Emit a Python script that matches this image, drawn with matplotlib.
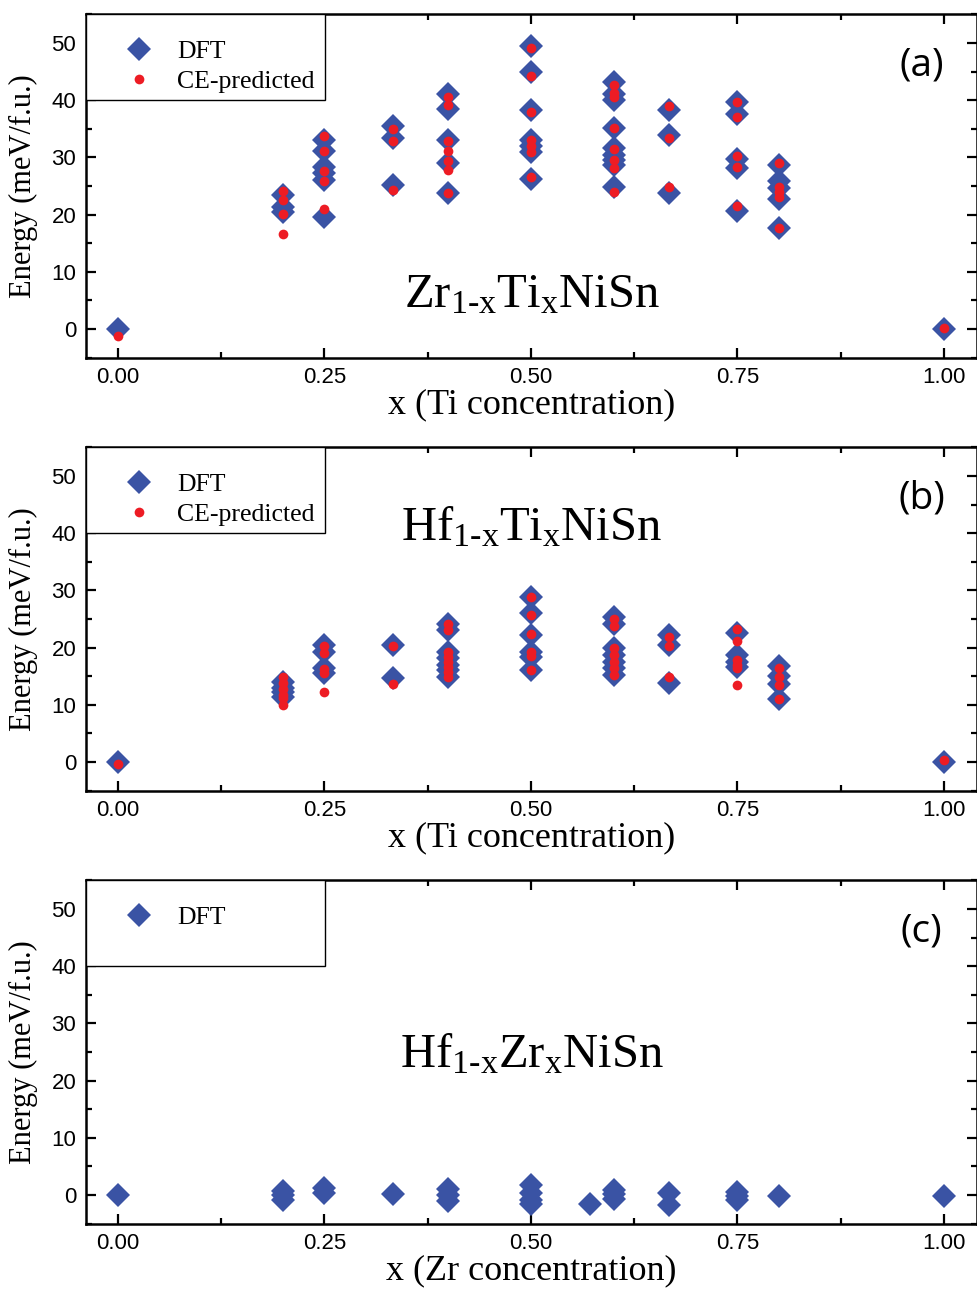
import matplotlib
matplotlib.use("Agg")
import matplotlib.pyplot as plt
from matplotlib.patches import Rectangle
from matplotlib.ticker import MultipleLocator, FormatStrFormatter

plt.rcParams['font.family'] = 'Liberation Sans'
plt.rcParams['mathtext.fontset'] = 'custom'
plt.rcParams['mathtext.rm'] = 'Liberation Serif'
plt.rcParams['mathtext.it'] = 'Liberation Serif'

BLUE = '#3A53A4'
RED = '#ED1C24'

# Ti / Zr concentrations of the calculated structures
conc = [0.0, 0.2, 0.25, 1/3, 0.4, 0.5, 0.6, 2/3, 0.75, 0.8, 1.0]

# (a) Zr(1-x)Ti(x)NiSn, meV/f.u.
zrti_dft = [[0.0], [23.5, 21.3, 20.4], [33.0, 31.1, 28.4, 27.2, 26.0, 19.5],
            [35.4, 33.3, 25.2], [41.1, 38.5, 33.0, 29.0, 23.8],
            [49.5, 44.9, 38.3, 33.0, 32.0, 31.0, 26.3],
            [43.1, 41.1, 40.0, 35.2, 31.6, 30.4, 29.5, 28.7, 24.9],
            [38.3, 33.9, 23.7], [39.7, 37.5, 29.8, 28.1, 20.6],
            [28.7, 25.8, 24.6, 22.8, 17.7], [0.0]]
zrti_ce = [[-1.3], [24.2, 22.6, 20.1, 16.6], [33.8, 31.1, 27.6, 25.9, 20.9],
           [34.9, 32.9, 24.3], [40.6, 39.2, 32.9, 31.1, 29.3, 27.8, 23.7],
           [49.1, 44.2, 38.0, 33.0, 31.9, 31.0, 26.5],
           [42.7, 41.2, 40.6, 35.2, 31.5, 29.5, 28.1, 24.0],
           [38.9, 33.4, 24.8], [39.6, 37.1, 30.2, 28.4, 21.5],
           [29.1, 24.8, 24.0, 23.0, 17.6], [0.1]]

# (b) Hf(1-x)Ti(x)NiSn
hfti_dft = [[0.0], [14.0, 13.0, 12.2, 11.3], [20.5, 19.3, 16.4, 15.5],
            [20.5, 14.6], [24.2, 23.1, 19.3, 18.1, 17.0, 16.1, 14.9],
            [28.9, 26.0, 22.2, 19.3, 18.3, 16.1],
            [25.4, 24.2, 19.9, 18.7, 17.5, 16.4, 15.2],
            [22.2, 20.5, 13.8], [22.5, 18.7, 17.5, 16.6],
            [16.8, 15.0, 13.6, 11.0], [0.0]]
hfti_ce = [[-0.4], [14.8, 13.8, 12.8, 11.8, 11.2, 10.0], [20.2, 19.1, 16.2, 15.5, 12.3],
           [20.2, 13.6], [24.2, 23.1, 19.3, 18.4, 17.5, 16.6, 15.7, 14.9],
           [28.9, 25.7, 22.3, 19.3, 18.5, 16.1],
           [25.0, 23.8, 19.9, 18.7, 17.5, 16.4, 15.2],
           [21.9, 20.2, 14.8], [23.2, 21.2, 17.8, 16.9, 16.4, 13.5],
           [16.5, 14.9, 13.5, 11.0], [0.3]]

# (c) Hf(1-x)Zr(x)NiSn, DFT only
conc_c = [0.0, 0.2, 0.25, 1/3, 0.4, 0.5, 4/7, 0.6, 2/3, 0.75, 0.8, 1.0]
hfzr_dft = [[0.0], [0.7, 0.0, -0.8], [1.2, 0.3], [0.1], [1.0, 0.0, -1.0],
            [1.7, 0.3, -0.9, -1.5], [-1.6], [0.9, 0.1, -0.7], [0.3, -1.7],
            [0.6, -0.2, -0.8], [-0.2], [-0.1]]


def flat(xs, groups):
    x = [xi for xi, g in zip(xs, groups) for _ in g]
    y = [v for g in groups for v in g]
    return x, y


def panel(ax, xs, dft, ce, formula, tag, form_y, xlabel):
    x, y = flat(xs, dft)
    ax.plot(x, y, ls='none', marker='D', ms=12.5, color=BLUE, mew=0, label='DFT', zorder=3)
    if ce is not None:
        x, y = flat(xs, ce)
        ax.plot(x, y, ls='none', marker='o', ms=7, color=RED, mew=0, label='CE-predicted', zorder=4)

    ax.set_xlim(-0.0387, 1.04)
    ax.set_ylim(-5, 55)
    ax.xaxis.set_major_locator(MultipleLocator(0.25))
    ax.xaxis.set_minor_locator(MultipleLocator(0.125))
    ax.yaxis.set_major_locator(MultipleLocator(10))
    ax.yaxis.set_minor_locator(MultipleLocator(5))
    ax.xaxis.set_major_formatter(FormatStrFormatter('%.2f'))
    ax.tick_params(which='both', direction='in', top=True, right=True, width=1.6)
    ax.tick_params(which='major', length=7, labelsize=16, pad=7)
    ax.tick_params(which='minor', length=4)
    for s in ax.spines.values():
        s.set_linewidth(1.8)

    ax.set_xlabel(xlabel, fontsize=26, family='Liberation Serif')
    ax.xaxis.set_label_coords(0.5, -0.09)
    ax.set_ylabel('Energy (meV/f.u.)', fontsize=22, family='Liberation Serif')
    ax.yaxis.set_label_coords(-0.054, 0.5)

    # legend box
    ax.add_patch(Rectangle((0, 0.75), 0.268, 0.25, transform=ax.transAxes,
                           facecolor='white', edgecolor='black', lw=1.0, zorder=5))
    leg = ax.legend(loc='upper left', bbox_to_anchor=(0, 1.005), borderaxespad=0,
                    frameon=False, prop={'family': 'Liberation Serif', 'size': 18.5},
                    handlelength=2.0, borderpad=1.05, handletextpad=0.5,
                    labelspacing=0.28, numpoints=1)
    leg.set_zorder(6)

    ax.text(0.5, form_y, formula, transform=ax.transAxes, ha='center', va='center',
            fontsize=35, family='Liberation Serif')
    ax.text(0.938, 0.85, tag, transform=ax.transAxes, ha='center', va='center',
            fontsize=28, family='Open Sans')


fig = plt.figure(figsize=(9.77, 12.95), dpi=100)
ax_a = fig.add_axes([0.088, 0.7239, 0.912, 0.265])
ax_b = fig.add_axes([0.088, 0.3895, 0.912, 0.265])
ax_c = fig.add_axes([0.088, 0.0551, 0.912, 0.265])

panel(ax_a, conc, zrti_dft, zrti_ce, 'Zr$_{1\u2010x}$Ti$_{x}$NiSn', '(a)', 0.18,
      'x (Ti concentration)')
panel(ax_b, conc, hfti_dft, hfti_ce, 'Hf$_{1\u2010x}$Ti$_{x}$NiSn', '(b)', 0.766,
      'x (Ti concentration)')
panel(ax_c, conc_c, hfzr_dft, None, 'Hf$_{1\u2010x}$Zr$_{x}$NiSn', '(c)', 0.49,
      'x (Zr concentration)')

fig.savefig('out.png', dpi=100)
